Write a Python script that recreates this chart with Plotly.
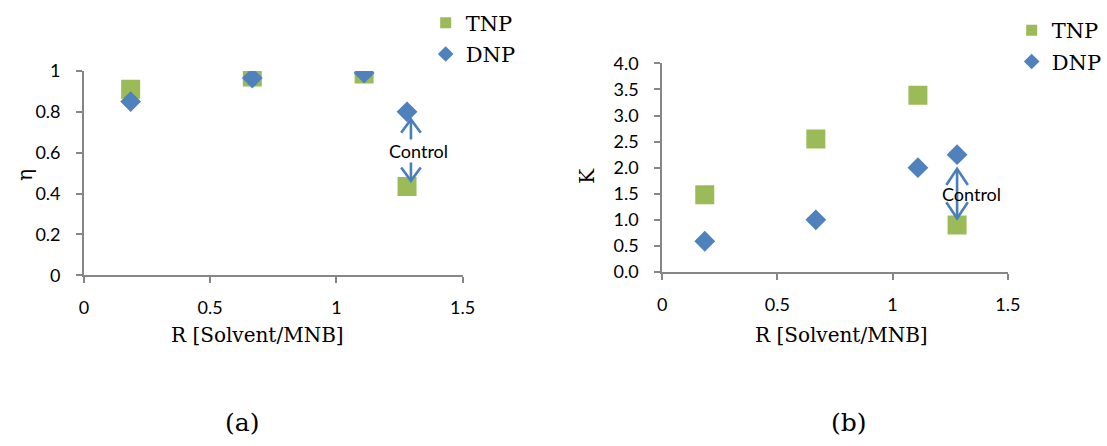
import plotly.graph_objects as go

W, H = 1107, 446

# Solvent-to-MNB ratio for each run (last run is the control)
r_ratio = [0.185, 0.667, 1.11, 1.28]

# Panel (a): removal efficiency
eta_tnp = [0.91, 0.97, 0.985, 0.435]
eta_dnp = [0.85, 0.965, 0.99, 0.80]

# Panel (b): partition coefficient
k_tnp = [1.48, 2.55, 3.39, 0.90]
k_dnp = [0.59, 1.00, 2.00, 2.25]

x_ticks = [0, 0.5, 1, 1.5]
eta_ticks = [0, 0.2, 0.4, 0.6, 0.8, 1]
k_ticks = [0, 0.5, 1.0, 1.5, 2.0, 2.5, 3.0, 3.5, 4.0]

GREEN = "#9BBB59"
BLUE = "#4F81BD"
ARROW = "#4A7EBB"
AXIS = "#868686"
TICK_FONT = dict(family="Lato", size=18, color="#000000")
SERIF = "DejaVu Serif"

# plot boxes in pixels: (left, top, right, bottom)
box_a = (80.7, 62.0, 467.7, 277.0)
box_b = (671.7, 54.0, 1025.0, 273.5)


def xdom(box):
    return [box[0] / W, box[2] / W]


def ydom(box):
    return [1 - box[3] / H, 1 - box[1] / H]


def px(x):
    return x / W


def py(y):
    return 1 - y / H


fig = go.Figure()

# data markers
fig.add_trace(go.Scatter(x=r_ratio, y=eta_tnp, mode="markers", showlegend=False,
                         marker=dict(symbol="square", size=19, color=GREEN),
                         xaxis="x", yaxis="y"))
fig.add_trace(go.Scatter(x=r_ratio, y=eta_dnp, mode="markers", showlegend=False,
                         marker=dict(symbol="diamond", size=16, color=BLUE),
                         xaxis="x", yaxis="y"))
fig.add_trace(go.Scatter(x=r_ratio, y=k_tnp, mode="markers", showlegend=False,
                         marker=dict(symbol="square", size=19, color=GREEN),
                         xaxis="x2", yaxis="y2"))
fig.add_trace(go.Scatter(x=r_ratio, y=k_dnp, mode="markers", showlegend=False,
                         marker=dict(symbol="diamond", size=16, color=BLUE),
                         xaxis="x2", yaxis="y2"))

# legend entries (smaller symbols than the plotted markers)
for leg, xa, ya in (("legend", "x", "y"), ("legend2", "x2", "y2")):
    fig.add_trace(go.Scatter(x=[None], y=[None], mode="markers", name="TNP",
                             legendgroup=leg + "tnp",
                             marker=dict(symbol="square", size=11, color=GREEN),
                             legend=leg, xaxis=xa, yaxis=ya))
    fig.add_trace(go.Scatter(x=[None], y=[None], mode="markers", name="DNP",
                             legendgroup=leg + "dnp",
                             marker=dict(symbol="diamond", size=12, color=BLUE),
                             legend=leg, xaxis=xa, yaxis=ya))

axis_common = dict(showline=True, linecolor=AXIS, linewidth=1.6, ticks="outside",
                   tickcolor=AXIS, tickwidth=1.6, ticklen=6, showgrid=False,
                   zeroline=False, tickfont=TICK_FONT, fixedrange=True)

legend_common = dict(xanchor="left", yanchor="top", traceorder="grouped",
                     tracegroupgap=1,
                     font=dict(family=SERIF, size=21, color="#000000"),
                     bgcolor="rgba(0,0,0,0)", itemwidth=30)

fig.update_layout(
    width=W, height=H,
    margin=dict(l=0, r=0, t=0, b=0),
    paper_bgcolor="white", plot_bgcolor="white",
    xaxis=dict(domain=xdom(box_a), range=[0, 1.5], tickvals=x_ticks,
               anchor="y", ticklabelstandoff=9, **axis_common),
    yaxis=dict(domain=ydom(box_a), range=[0, 1], tickvals=eta_ticks,
               anchor="x", ticklabelstandoff=12, **axis_common),
    xaxis2=dict(domain=xdom(box_b), range=[0, 1.5], tickvals=x_ticks,
                anchor="y2", ticklabelstandoff=10, **axis_common),
    yaxis2=dict(domain=ydom(box_b), range=[0, 4], tickvals=k_ticks,
                tickformat=".1f", anchor="x2", ticklabelstandoff=12, **axis_common),
    legend=dict(x=px(430), y=py(-10), **legend_common),
    legend2=dict(x=px(1029), y=py(-2), **legend_common),
)


def control_arrow(xref, yref, box, rng_x, rng_y, x_ctrl, y_hi, y_lo,
                  dx_px, gap_top_px, gap_bot_px, arm_w_px, arm_h_px):
    """Double-headed open arrow between the two control markers."""
    sx = (box[2] - box[0]) / (rng_x[1] - rng_x[0])
    sy = (box[3] - box[1]) / (rng_y[1] - rng_y[0])
    x = x_ctrl + dx_px / sx
    top = y_hi - gap_top_px / sy
    bot = y_lo + gap_bot_px / sy
    aw = arm_w_px / sx
    ah = arm_h_px / sy
    style = dict(xref=xref, yref=yref, line=dict(color=ARROW, width=2.6))
    fig.add_shape(type="line", x0=x, x1=x, y0=bot, y1=top, **style)
    fig.add_shape(type="path",
                  path=f"M{x - aw},{top - ah} L{x},{top} L{x + aw},{top - ah}", **style)
    fig.add_shape(type="path",
                  path=f"M{x - aw},{bot + ah} L{x},{bot} L{x + aw},{bot + ah}", **style)


control_arrow("x", "y", box_a, [0, 1.5], [0, 1], r_ratio[-1], eta_dnp[-1], eta_tnp[-1],
              4, 8, 6, 10, 14)
control_arrow("x2", "y2", box_b, [0, 1.5], [0, 4], r_ratio[-1], k_dnp[-1], k_tnp[-1],
              0, 15, 7, 11, 17)


def label(x, y, text, font, **kw):
    fig.add_annotation(x=px(x), y=py(y), xref="paper", yref="paper", text=text,
                       xanchor="center", yanchor="middle", showarrow=False,
                       font=font, **kw)


# "Control" labels
control_font = dict(family="Lato", size=18, color="#000000")
label(422.7, 146.7, "Control", control_font, bgcolor="white", borderpad=0)
label(987.7, 191.7, "Control", control_font)

# axis titles
title_font = dict(family=SERIF, size=20, color="#000000")
label(258, 340, "R [Solvent/MNB]", title_font)
label(855, 340, "R [Solvent/MNB]", title_font)
label(20, 172, "η", title_font, textangle=-90)
label(594, 172, "K", title_font, textangle=-90)

# panel labels
panel_font = dict(family=SERIF, size=25, color="#000000")
label(242, 432, "(a)", panel_font)
label(863, 432, "(b)", panel_font)

fig.write_html("out.html")
